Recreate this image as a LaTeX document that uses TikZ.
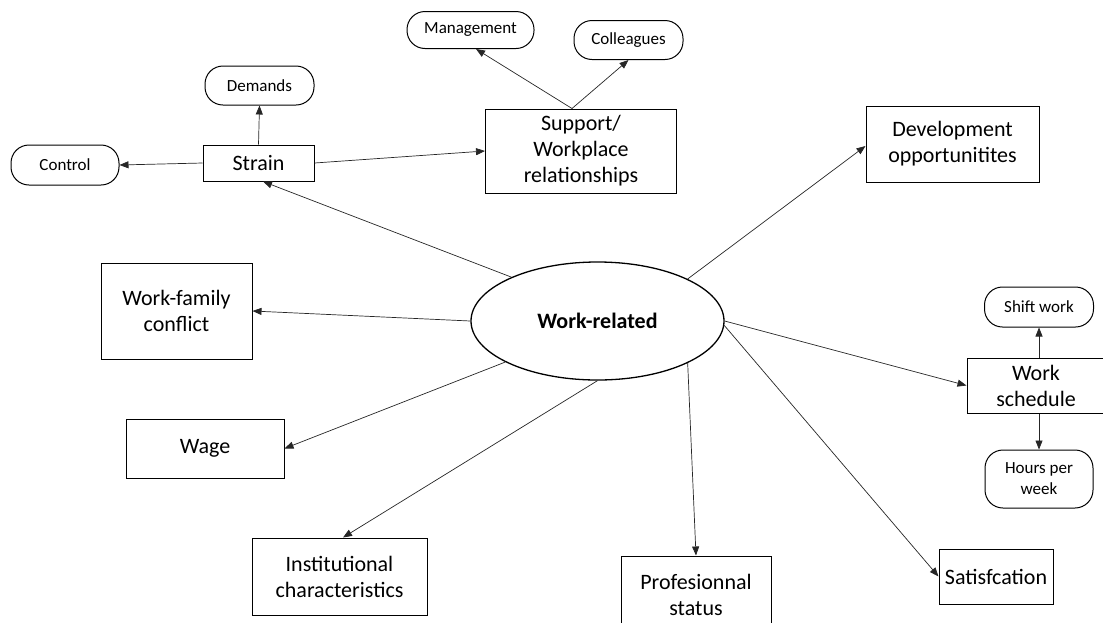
\documentclass[tikz,border=0pt]{standalone}
\usepackage{fontspec}
\setmainfont{Carlito}
\usetikzlibrary{arrows.meta,shapes.geometric}

\tikzset{
  x=1pt, y=-1pt,
  box/.style={draw=black, line width=1pt, rectangle, inner sep=0pt, align=center,
    font=\fontsize{22}{26}\selectfont},
  pill/.style={draw=black, line width=1pt, rectangle, rounded corners=18pt, inner sep=0pt,
    align=center, font=\fontsize{17}{21}\selectfont},
  link/.style={draw=black!85, line width=0.7pt, -{Triangle[length=9pt,width=7pt]}},
}

\begin{document}
\begin{tikzpicture}
\useasboundingbox (0,0) rectangle (1103,622);
\clip (0,0) rectangle (1103,622);

% central concept
\node[draw=black, line width=1.3pt, ellipse, inner sep=0pt,
      minimum width=253pt, minimum height=118pt,
      font=\fontsize{22}{26}\selectfont\bfseries] (ell) at (597.5,321) {Work-related};

% strain cluster
\node[box, minimum width=111pt, minimum height=36pt] (strain) at (258.5,163) {Strain};
\node[pill, minimum width=108pt, minimum height=40pt] (ctrl) at (65,165) {Control};
\node[pill, minimum width=109pt, minimum height=39pt] (dem) at (259.5,85.5) {Demands};

% support cluster
\node[box, minimum width=191pt, minimum height=84pt] (supp) at (581,151) {Support/\\Workplace\\relationships};
\node[pill, minimum width=127pt, minimum height=37pt] (mgmt) at (470.5,30) {Management};
\node[pill, minimum width=109pt, minimum height=39pt] (coll) at (628.5,40) {Colleagues};

% other factors
\node[box, minimum width=173pt, minimum height=76pt] (dev) at (952.5,144) {Development\\opportunitites};
\node[box, minimum width=151pt, minimum height=96pt] (wfc) at (176.5,311) {Work-family\\conflict};
\node[box, minimum width=158pt, minimum height=59pt] (wage) at (205,448.5) {Wage};
\node[box, minimum width=175pt, minimum height=77pt] (inst) at (339.5,576.5) {Institutional\\characteristics};
\node[box, minimum width=150pt, minimum height=78pt] (prof) at (696,595) {Profesionnal\\status};
\node[box, minimum width=114pt, minimum height=55pt] (sat) at (996,576.5) {Satisfcation};

% work schedule cluster
\node[box, minimum width=138pt, minimum height=55pt] (ws) at (1036,385.5) {Work\\schedule};
\node[pill, minimum width=109pt, minimum height=40pt] (shift) at (1039,307) {Shift work};
\node[pill, minimum width=108pt, minimum height=58pt] (hours) at (1039,479) {Hours per\\week};

% connectors
\draw[link] (strain.west) -- (ctrl.east);
\draw[link] (strain.north) -- (dem.south);
\draw[link] (strain.east) -- (supp.west);
\draw[link] ([xshift=-9pt]supp.north) -- ([xshift=5.5pt]mgmt.south);
\draw[link] ([xshift=-9pt]supp.north) -- (coll.south);

\draw[link] (ell.153.8) -- ([xshift=4.5pt]strain.south);
\draw[link] (ell.25.9) -- ([yshift=-2pt]dev.west);
\draw[link] (ell.180) -- (wfc.east);
\draw[link] (ell.204.9) -- (wage.east);
\draw[link] (ell.270) -- ([xshift=3.5pt]inst.north);
\draw[link] (ell.335.1) -- (prof.north);
\draw[link] (ell.0) -- (ws.west);
\draw[link] (ell.-2) -- (sat.west);

\draw[link] (ws.north -| shift.south) -- (shift.south);
\draw[link] (ws.south -| hours.north) -- (hours.north);
\end{tikzpicture}
\end{document}
